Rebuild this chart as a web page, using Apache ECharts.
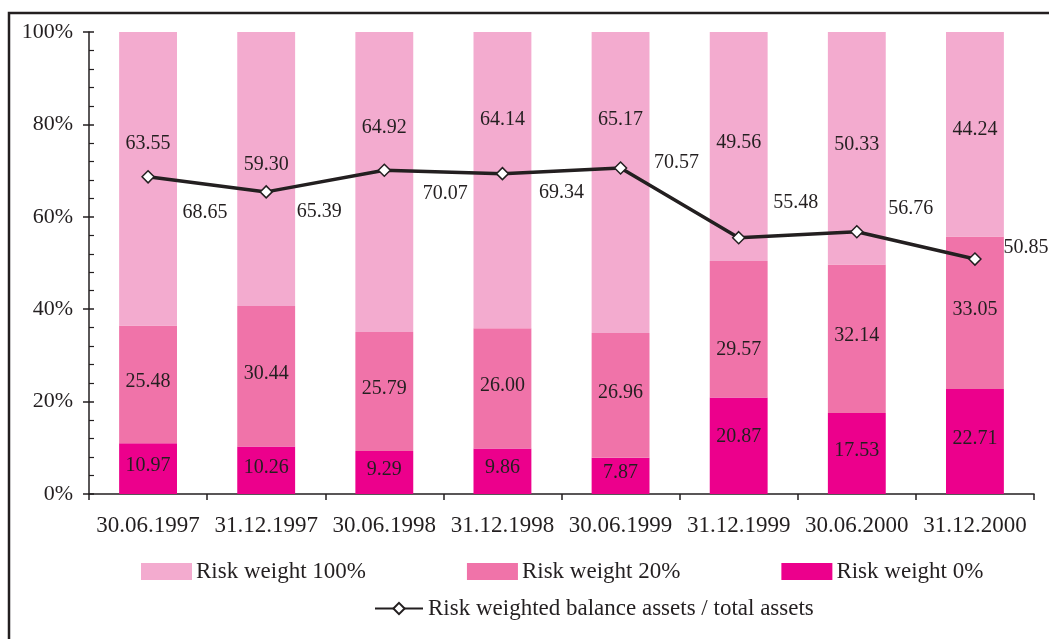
<!DOCTYPE html>
<html>
<head>
<meta charset="utf-8">
<script src="https://cdn.jsdelivr.net/npm/echarts@6/dist/echarts.min.js"></script>
<style>
html,body{margin:0;padding:0;background:#fff;}
#chart{width:1049px;height:639px;}
</style>
</head>
<body>
<div id="chart"></div>
<script>
// ---- data ----
const categories = ['30.06.1997','31.12.1997','30.06.1998','31.12.1998','30.06.1999','31.12.1999','30.06.2000','31.12.2000'];
const weight100 = [63.55, 59.30, 64.92, 64.14, 65.17, 49.56, 50.33, 44.24];
const weight20  = [25.48, 30.44, 25.79, 26.00, 26.96, 29.57, 32.14, 33.05];
const weight0   = [10.97, 10.26, 9.29, 9.86, 7.87, 20.87, 17.53, 22.71];
const weightedRatio = [68.65, 65.39, 70.07, 69.34, 70.57, 55.48, 56.76, 50.85];
const yTicks = [0, 20, 40, 60, 80, 100];
const seriesNames = ['Risk weight 100%', 'Risk weight 20%', 'Risk weight 0%', 'Risk weighted balance assets / total assets'];

// ---- label placement (styling only) ----
const shift100 = [-35, -4, -54, -60, -63, -4, -4, -4];
const shift20  = [-3, -3, -3, -3, -3, 20, -3, -3];
const shift0   = [-3, -3, -3, -3, -3, -9, -3, -3];
const lineShift = [[57,36],[53,20],[61,23],[59,19],[56,-5],[57,-35],[54,-23],[51,-11]];

const ink = '#231f20';
const font = 'Liberation Serif, "Times New Roman", serif';
const fmt = p => Number(p.value).toFixed(2);

function barData(vals, shifts){
  return vals.map((v,i)=>({value:v, label:{offset:[0, shifts[i]]}}));
}

const chart = echarts.init(document.getElementById('chart'), null, {renderer:'canvas'});
chart.setOption({
  animation:false,
  backgroundColor:'#fff',
  textStyle:{fontFamily:font, color:ink},
  graphic:[{
    type:'rect', silent:true, z:-10,
    shape:{x:9, y:13, width:1100, height:700},
    style:{fill:'none', stroke:ink, lineWidth:2.5}
  }],
  grid:{left:89, right:15, top:32, bottom:145, containLabel:false},
  legend:[{
    data:[seriesNames[0], seriesNames[1], seriesNames[2]],
    left:136, top:555, orient:'horizontal',
    itemWidth:51, itemHeight:17, itemGap:101,
    icon:'rect',
    textStyle:{fontFamily:font, fontSize:23, color:ink, padding:[0,0,0,-1]}
  },{
    data:[seriesNames[3]],
    left:369, top:592,
    itemWidth:48, itemHeight:14,
    textStyle:{fontFamily:font, fontSize:23, color:ink}
  }],
  xAxis:{
    type:'category', data:categories,
    axisLine:{lineStyle:{color:ink, width:1.5}},
    axisTick:{show:true, length:6, lineStyle:{color:ink, width:1.5}},
    axisLabel:{fontFamily:font, fontSize:23, color:ink, margin:20, interval:0},
    splitLine:{show:false}
  },
  yAxis:[{
    type:'value', min:0, max:100, interval:20,
    axisLine:{show:true, lineStyle:{color:ink, width:1.5}},
    axisTick:{show:true, length:6, lineStyle:{color:ink, width:1.5}},
    axisLabel:{fontFamily:font, fontSize:22, color:ink, margin:16,
      formatter: v => yTicks.indexOf(v) >= 0 ? v + '%' : ''},
    splitLine:{show:false}
  },{
    type:'value', min:0, max:100, interval:20, position:'left', offset:0,
    axisLine:{show:false},
    axisTick:{show:true, inside:true, length:5, lineStyle:{color:ink, width:1.5}},
    minorTick:{show:true, splitNumber:5, length:5, lineStyle:{color:ink, width:1.2}},
    axisLabel:{show:false},
    splitLine:{show:false}
  }],
  series:[{
    name:seriesNames[2], type:'bar', stack:'total', barWidth:'49%',
    itemStyle:{color:'#ec008c'},
    label:{show:true, position:'inside', formatter:fmt, fontFamily:font, fontSize:20, color:ink},
    data:barData(weight0, shift0)
  },{
    name:seriesNames[1], type:'bar', stack:'total', barWidth:'49%',
    itemStyle:{color:'#f073a9'},
    label:{show:true, position:'inside', formatter:fmt, fontFamily:font, fontSize:20, color:ink},
    data:barData(weight20, shift20)
  },{
    name:seriesNames[0], type:'bar', stack:'total', barWidth:'49%',
    itemStyle:{color:'#f3abcf'},
    label:{show:true, position:'inside', formatter:fmt, fontFamily:font, fontSize:20, color:ink},
    data:barData(weight100, shift100)
  },{
    name:seriesNames[3], type:'line', z:5,
    symbol:'diamond', symbolSize:12,
    lineStyle:{color:ink, width:3.5},
    itemStyle:{color:'#fff', borderColor:ink, borderWidth:1.5},
    label:{show:true, position:'inside', formatter:fmt, fontFamily:font, fontSize:20, color:ink},
    data:weightedRatio.map((v,i)=>({value:v, label:{offset:lineShift[i]}}))
  }]
});
</script>
</body>
</html>
